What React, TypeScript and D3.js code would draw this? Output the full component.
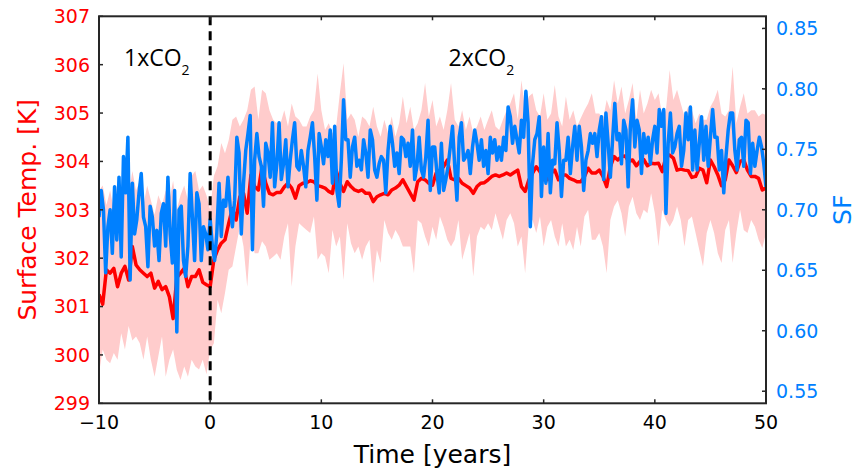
import React from 'react';
import * as d3 from 'd3';

// ---- data ----
const T_START = -10;
const TEMP_STEP = 1 / 3; // years between temperature samples
const SF_STEP = 0.2; // years between SF samples

const tempMean = [
  301.25, 301.05, 301.76, 301.69, 301.79, 301.41, 301.69, 301.83, 301.55, 302.24, 301.86, 301.76, 301.69, 301.62, 301.69, 301.38, 301.52, 301.35, 301.41, 301.2, 300.75, 301.6, 301.69, 301.79, 301.41, 301.62, 301.62, 301.76, 301.5, 301.45,
  301.41, 301.97, 302.17, 302.31, 302.38, 302.72, 303.03, 302.79, 303.27, 303.34, 302.93, 303.72, 303.48, 303.41, 303.89, 303.55, 303.34, 303.31, 303.36, 303.36, 303.47, 303.55, 303.45, 303.24, 303.5, 303.55, 303.56, 303.6, 303.58, 303.5,
  303.48, 303.45, 303.38, 303.34, 303.82, 303.55, 303.38, 303.58, 303.48, 303.41, 303.38, 303.41, 303.34, 303.34, 303.17, 303.27, 303.31, 303.34, 303.31, 303.41, 303.45, 303.51, 303.62, 303.48, 303.34, 303.2, 303.58, 303.65, 303.62, 303.55,
  303.51, 303.76, 303.82, 303.89, 304.03, 303.65, 303.62, 303.65, 303.55, 303.5, 303.45, 303.34, 303.48, 303.55, 303.56, 303.62, 303.69, 303.72, 303.69, 303.72, 303.76, 303.72, 303.77, 303.82, 303.48, 303.38, 303.62, 303.76, 303.89, 303.79,
  303.62, 303.62, 303.76, 303.82, 303.62, 303.72, 303.72, 303.65, 303.62, 303.58, 303.58, 303.69, 303.86, 303.76, 303.76, 303.82, 303.69, 303.48, 303.89, 304.1, 304.03, 304.1, 304.11, 304.0, 304.03, 303.91, 304.0, 304.04, 303.91, 303.96,
  303.95, 303.96, 303.79, 304.1, 304.13, 304.07, 303.82, 303.84, 303.82, 303.81, 303.67, 303.69, 303.86, 303.82, 303.56, 304.03, 303.89, 303.72, 303.5, 303.62, 304.03, 303.91, 303.77, 304.0, 304.03, 303.82, 303.69, 303.69, 303.65, 303.41, 303.45,
];

const tempUpper = [
  303.4, 303.5, 303.1, 303.4, 303.0, 303.6, 303.2, 303.5, 303.3, 303.8, 303.4, 303.6, 303.1, 303.5, 303.2, 302.9, 303.3, 303.1, 303.4, 303.2, 303.6, 303.0, 303.3, 303.5, 303.2, 303.7, 303.8, 303.4, 303.5, 303.3,
  303.0, 303.7, 303.9, 304.38, 304.17, 304.44, 304.86, 304.93, 304.72, 304.86, 305.06, 305.48, 305.55, 304.86, 305.48, 305.41, 305.06, 304.86, 304.79, 304.79, 305.06, 304.72, 305.2, 304.93, 304.86, 304.72, 304.72, 304.93, 305.06, 305.82,
  305.06, 304.65, 304.79, 304.58, 304.72, 305.41, 306.03, 304.86, 304.99, 304.86, 304.51, 304.93, 304.86, 304.72, 305.13, 304.72, 304.51, 304.86, 304.58, 304.93, 304.51, 304.79, 305.34, 304.79, 305.13, 304.65, 304.79, 305.06, 305.62, 304.93,
  305.27, 304.72, 304.93, 304.65, 305.06, 305.62, 304.86, 304.72, 305.06, 304.65, 304.93, 304.58, 304.72, 304.93, 304.65, 304.86, 305.06, 304.72, 304.65, 304.86, 305.06, 305.2, 305.41, 304.86, 305.68, 305.06, 305.34, 305.41, 305.06, 304.93,
  305.41, 304.86, 304.99, 305.58, 304.93, 304.72, 305.34, 304.86, 305.06, 304.72, 304.89, 305.06, 305.2, 305.41, 304.99, 304.99, 304.86, 305.27, 305.06, 305.68, 305.2, 305.55, 304.99, 305.27, 305.62, 304.86, 305.48, 304.99, 305.2, 305.48,
  305.27, 305.41, 304.93, 305.06, 305.89, 305.27, 305.48, 305.2, 304.93, 305.13, 305.06, 304.79, 304.99, 304.86, 304.86, 305.13, 305.27, 305.48, 304.99, 304.93, 305.06, 305.96, 304.79, 305.13, 305.41, 304.99, 305.06, 305.06, 304.93, 304.99, 304.96,
];

const tempLower = [
  299.62, 300.11, 299.9, 299.83, 300.04, 299.9, 300.45, 300.11, 300.6, 300.3, 300.38, 300.24, 299.9, 300.38, 299.9, 299.55, 299.97, 300.38, 299.55, 299.9, 300.11, 299.69, 299.48, 299.76, 299.55, 299.9, 299.76, 299.7, 299.9, 299.6,
  300.1, 300.24, 301.14, 300.86, 301.28, 301.76, 301.83, 302.24, 302.65, 302.24, 301.41, 302.52, 302.1, 302.1, 302.35, 302.24, 301.97, 302.03, 302.1, 301.97, 302.45, 302.72, 301.41, 302.24, 302.72, 302.65, 302.58, 302.52, 302.86, 301.97,
  302.1, 302.03, 301.69, 302.58, 302.24, 302.45, 301.55, 302.72, 302.31, 302.1, 302.24, 301.97, 302.24, 302.38, 301.48, 302.17, 301.9, 302.79, 302.52, 302.38, 302.58, 302.45, 302.24, 302.24, 302.24, 301.69, 302.79, 302.72, 302.45, 302.24,
  302.65, 302.38, 302.86, 302.65, 302.38, 302.24, 302.38, 302.79, 301.97, 302.24, 302.52, 301.62, 302.45, 302.65, 302.58, 302.72, 302.58, 302.93, 302.65, 302.38, 302.79, 302.93, 302.72, 302.24, 302.45, 301.69, 302.72, 302.79, 302.52, 302.86,
  302.24, 302.65, 302.79, 302.45, 302.24, 302.72, 302.24, 302.38, 302.17, 302.65, 302.24, 302.86, 303.0, 302.38, 302.38, 302.52, 302.24, 301.69, 302.79, 303.07, 303.2, 302.93, 302.45, 303.07, 303.27, 302.93, 302.79, 303.0, 302.93, 303.34,
  302.93, 302.24, 303.0, 302.79, 302.65, 302.79, 303.07, 302.79, 302.24, 302.79, 302.86, 302.52, 302.17, 301.83, 302.52, 302.79, 302.52, 302.1, 301.9, 302.58, 302.79, 301.9, 302.52, 303.0, 302.58, 302.52, 302.79, 302.65, 302.38, 302.21, 302.52,
];

const sfValues = [
  0.694, 0.716, 0.7, 0.648, 0.686, 0.7, 0.664, 0.719, 0.675, 0.727, 0.661, 0.744, 0.714, 0.76, 0.642, 0.722, 0.68, 0.692, 0.714, 0.73, 0.694, 0.686, 0.653, 0.703, 0.694, 0.67, 0.683, 0.658, 0.697, 0.705, 0.67, 0.727, 0.68, 0.656, 0.716, 0.599, 0.7, 0.703, 0.658, 0.645, 0.67, 0.73, 0.694, 0.658, 0.714, 0.705, 0.658, 0.686, 0.68, 0.667,
  0.692, 0.67, 0.658, 0.681, 0.722, 0.678, 0.708, 0.703, 0.727, 0.703, 0.686, 0.708, 0.76, 0.747, 0.68, 0.722, 0.749, 0.763, 0.778, 0.667, 0.741, 0.763, 0.744, 0.736, 0.703, 0.755, 0.747, 0.727, 0.772, 0.719, 0.738, 0.772, 0.725, 0.738, 0.758, 0.719, 0.741, 0.758, 0.772, 0.736, 0.733, 0.749, 0.736, 0.719, 0.749, 0.76, 0.772, 0.744, 0.708, 0.763,
  0.752, 0.738, 0.758, 0.744, 0.766, 0.722, 0.769, 0.716, 0.703, 0.741, 0.791, 0.758, 0.758, 0.727, 0.752, 0.76, 0.736, 0.741, 0.733, 0.758, 0.747, 0.727, 0.766, 0.758, 0.733, 0.727, 0.738, 0.744, 0.741, 0.714, 0.749, 0.769, 0.755, 0.736, 0.747, 0.73, 0.76, 0.758, 0.744, 0.755, 0.736, 0.766, 0.725, 0.736, 0.76, 0.733, 0.727, 0.744, 0.774, 0.716,
  0.752, 0.752, 0.73, 0.714, 0.755, 0.716, 0.725, 0.736, 0.752, 0.769, 0.736, 0.708, 0.76, 0.772, 0.741, 0.744, 0.749, 0.73, 0.752, 0.766, 0.755, 0.741, 0.758, 0.736, 0.749, 0.73, 0.76, 0.747, 0.758, 0.741, 0.752, 0.741, 0.76, 0.749, 0.785, 0.777, 0.755, 0.769, 0.758, 0.747, 0.774, 0.76, 0.798, 0.772, 0.686, 0.738, 0.758, 0.763, 0.777, 0.711,
  0.752, 0.722, 0.763, 0.714, 0.741, 0.738, 0.772, 0.749, 0.711, 0.741, 0.741, 0.76, 0.73, 0.752, 0.769, 0.741, 0.769, 0.752, 0.716, 0.741, 0.749, 0.763, 0.755, 0.763, 0.744, 0.766, 0.777, 0.725, 0.78, 0.755, 0.727, 0.758, 0.788, 0.758, 0.763, 0.738, 0.774, 0.766, 0.719, 0.769, 0.791, 0.752, 0.774, 0.766, 0.73, 0.763, 0.747, 0.76, 0.738, 0.758,
  0.769, 0.747, 0.783, 0.769, 0.783, 0.697, 0.755, 0.78, 0.747, 0.752, 0.763, 0.769, 0.736, 0.749, 0.78, 0.758, 0.785, 0.733, 0.766, 0.733, 0.755, 0.777, 0.741, 0.769, 0.736, 0.76, 0.783, 0.76, 0.76, 0.733, 0.749, 0.714, 0.744, 0.766, 0.78, 0.78, 0.749, 0.733, 0.758, 0.76, 0.736, 0.774, 0.772, 0.73, 0.755, 0.736, 0.749, 0.76, 0.752, 0.738, 0.719,
];

const xTicks = [-10, 0, 10, 20, 30, 40, 50];
const tempTicks = [299, 300, 301, 302, 303, 304, 305, 306, 307];
const sfTicks = [0.55, 0.6, 0.65, 0.7, 0.75, 0.8, 0.85];
const xDomain = [-10, 50];
const tempDomain = [299, 307];
const sfDomain = [0.54, 0.86];
const forcingTime = 0;
const periodLabels = [
  { main: '1xCO', sub: '2', t: -7.75, temp: 305.98 },
  { main: '2xCO', sub: '2', t: 21.45, temp: 305.98 },
];

const RED = '#ff0000';
const BLUE = '#0080ff';
const BAND = '#ffcccc';
const FRAME = '#262626';
const FONT = 'DejaVu Sans, sans-serif';
const LABEL_FONT = '"Open Sans", sans-serif';

export default function App() {
  const W = 858;
  const H = 470;
  const L = 99, R = 766, T = 16.3, B = 403.3;

  const x = d3.scaleLinear().domain(xDomain).range([L, R]);
  const yT = d3.scaleLinear().domain(tempDomain).range([B, T]);
  const yS = d3.scaleLinear().domain(sfDomain).range([B, T]);

  const tempTime = (i: number) => T_START + i * TEMP_STEP;
  const sfTime = (i: number) => T_START + i * SF_STEP;

  const band = d3
    .area<number>()
    .x((_, i) => x(tempTime(i)))
    .y0((_, i) => yT(tempLower[i]))
    .y1((d) => yT(d))(tempUpper);

  const redLine = d3
    .line<number>()
    .x((_, i) => x(tempTime(i)))
    .y((d) => yT(d))(tempMean);

  const blueLine = d3
    .line<number>()
    .x((_, i) => x(sfTime(i)))
    .y((d) => yS(d))(sfValues);

  const tick = 4;

  return (
    <svg
      width={W}
      height={H}
      style={{ position: 'absolute', left: 0, top: 0, background: '#fff' }}
    >
      <defs>
        <clipPath id="plotclip">
          <rect x={L} y={T} width={R - L} height={B - T} />
        </clipPath>
      </defs>
      <rect x={0} y={0} width={W} height={H} fill="#fff" />
      <g clipPath="url(#plotclip)">
        <path d={band || ''} fill={BAND} stroke="none" />
        <path d={redLine || ''} fill="none" stroke={RED} strokeWidth={3.5} strokeLinejoin="round" />
        <path d={blueLine || ''} fill="none" stroke={BLUE} strokeWidth={3.5} strokeLinejoin="round" />
        <line
          x1={x(forcingTime)}
          x2={x(forcingTime)}
          y1={T}
          y2={B}
          stroke="#000"
          strokeWidth={3}
          strokeDasharray="9,6"
        />
      </g>

      {periodLabels.map((p) => (
        <text
          key={p.main + p.t}
          x={x(p.t)}
          y={yT(p.temp)}
          fontFamily={LABEL_FONT}
          fontSize={23}
          fill="#000"
        >
          {p.main}
          <tspan fontSize={14} dy={9}>
            {p.sub}
          </tspan>
        </text>
      ))}

      {/* frame */}
      <rect x={L} y={T} width={R - L} height={B - T} fill="none" stroke={FRAME} strokeWidth={2} />

      {/* x ticks */}
      {xTicks.map((v) => (
        <g key={'x' + v}>
          <line x1={x(v)} x2={x(v)} y1={B} y2={B - tick} stroke={FRAME} strokeWidth={1.5} />
          <line x1={x(v)} x2={x(v)} y1={T} y2={T + tick} stroke={FRAME} strokeWidth={1.5} />
          <text
            x={x(v)}
            y={428.5}
            textAnchor="middle"
            fontFamily={FONT}
            fontSize={19}
            fill="#000"
          >
            {v < 0 ? '\u2212' + Math.abs(v) : String(v)}
          </text>
        </g>
      ))}

      {/* left temperature ticks */}
      {tempTicks.map((v) => (
        <g key={'t' + v}>
          <line x1={L} x2={L + tick} y1={yT(v)} y2={yT(v)} stroke={FRAME} strokeWidth={1.5} />
          <text
            x={90}
            y={yT(v)}
            dy="0.36em"
            textAnchor="end"
            fontFamily={FONT}
            fontSize={19}
            fill={RED}
          >
            {v}
          </text>
        </g>
      ))}

      {/* right SF ticks */}
      {sfTicks.map((v) => (
        <g key={'s' + v}>
          <line x1={R} x2={R - tick} y1={yS(v)} y2={yS(v)} stroke={FRAME} strokeWidth={1.5} />
          <text
            x={776}
            y={yS(v)}
            dy="0.36em"
            textAnchor="start"
            fontFamily={FONT}
            fontSize={19}
            fill={BLUE}
          >
            {v.toFixed(2)}
          </text>
        </g>
      ))}

      {/* axis labels */}
      <text
        x={(L + R) / 2}
        y={463}
        textAnchor="middle"
        fontFamily={FONT}
        fontSize={25}
        fill="#000"
      >
        Time [years]
      </text>
      <text
        transform={`translate(36,${(T + B) / 2}) rotate(-90)`}
        textAnchor="middle"
        fontFamily={FONT}
        fontSize={25}
        fill={RED}
      >
        Surface Temp. [K]
      </text>
      <text
        transform={`translate(851,${(T + B) / 2}) rotate(-90)`}
        textAnchor="middle"
        fontFamily={FONT}
        fontSize={25}
        fill={BLUE}
      >
        SF
      </text>
    </svg>
  );
}
